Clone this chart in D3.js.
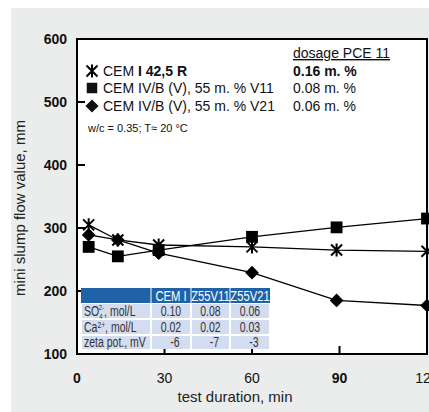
<!DOCTYPE html>
<html>
<head>
<meta charset="utf-8">
<script src="https://cdn.jsdelivr.net/npm/d3@7"></script>
<style>
  body { margin: 0; background: #fff; }
  svg { display: block; font-family: "Liberation Sans", Arial, sans-serif; }
</style>
</head>
<body>
<svg id="chart" width="429" height="412"></svg>
<script>
var times = [4, 14, 28, 60, 89, 120];
var cemI = [305, 281, 273, 270, 265, 263];
var v11 = [270, 255, 265, 286, 301, 315];
var v21 = [289, 281, 260, 229, 185, 177];
var xTicks = [0, 30, 60, 90, 120];
var yTicks = [100, 200, 300, 400, 500, 600];

var tableHead = ["", "CEM I", "Z55V11", "Z55V21"];
var rowLabels = ["SO4", "Ca", "zeta pot., mV"];
var cemIIons = ["0.10", "0.02", "-6"];
var v11Ions = ["0.08", "0.02", "-7"];
var v21Ions = ["0.06", "0.03", "-3"];

var svg = d3.select("#chart");
var pL = 77, pT = 39, pR = 427, pB = 354;

// grey backdrop
svg.append("rect").attr("x", 11).attr("y", 8).attr("width", 418).attr("height", 404).attr("fill", "#ebecec");

var x = d3.scaleLinear().domain([0, 120]).range([pL, pR]);
var y = d3.scaleLinear().domain([100, 600]).range([pB, pT]);

svg.append("rect")
    .attr("x", pL).attr("y", pT)
    .attr("width", pR - pL).attr("height", pB - pT)
    .attr("fill", "white").attr("stroke", "black").attr("stroke-width", 2);

// inward ticks
svg.selectAll(".yt").data(yTicks.slice(1, -1)).enter().append("line")
    .attr("x1", pL).attr("x2", pL + 8)
    .attr("y1", d => y(d)).attr("y2", d => y(d))
    .attr("stroke", "black").attr("stroke-width", 2);
svg.selectAll(".xt").data(xTicks.slice(1, -1)).enter().append("line")
    .attr("x1", d => x(d)).attr("x2", d => x(d))
    .attr("y1", pB).attr("y2", pB - 8)
    .attr("stroke", "black").attr("stroke-width", 2);

svg.selectAll(".yl").data(yTicks).enter().append("text")
    .attr("x", 67).attr("y", d => y(d) + 5)
    .attr("text-anchor", "end").attr("font-size", 14).attr("font-weight", "bold")
    .attr("fill", "#111").text(d => d);
svg.selectAll(".xl").data(xTicks).enter().append("text")
    .attr("x", d => x(d)).attr("y", 383)
    .attr("text-anchor", "middle").attr("font-size", 14)
    .attr("font-weight", d => (d == 0 || d == 90) ? "bold" : "normal")
    .attr("fill", "#111").text(d => d);

svg.append("text").attr("x", 235).attr("y", 402).attr("text-anchor", "middle")
    .attr("font-size", 15).attr("fill", "#222").text("test duration, min");
svg.append("text").attr("transform", "translate(25,208) rotate(-90)").attr("text-anchor", "middle")
    .attr("font-size", 15).attr("fill", "#222").text("mini slump flow value, mm");

// table of pore solution values (condensed text via horizontal scale)
var tx = [81, 151, 191, 230, 270];
var ty = [288, 303, 319, 335, 350];
var tbl = svg.append("g");
function ntext(g, px, py, anchor) {
  return g.append("text").attr("transform", "translate(" + px + "," + py + ") scale(0.75,1)")
      .attr("text-anchor", anchor);
}
tbl.append("rect").attr("x", tx[0]).attr("y", ty[0]).attr("width", tx[4] - tx[0]).attr("height", ty[1] - ty[0])
    .attr("fill", "#1f62a8");
tableHead.forEach(function(h, i) {
  if (i > 0) {
    tbl.append("line").attr("x1", tx[i]).attr("x2", tx[i]).attr("y1", ty[0]).attr("y2", ty[1])
        .attr("stroke", "white").attr("stroke-width", 1);
    ntext(tbl, (tx[i] + tx[i + 1]) / 2, ty[1] - 2.5, "middle")
        .attr("font-size", 15).attr("fill", "white").text(h);
  }
});
var cols = [cemIIons, v11Ions, v21Ions];
rowLabels.forEach(function(lab, r) {
  for (var c = 0; c < 4; c++) {
    tbl.append("rect").attr("x", tx[c] + 1).attr("y", ty[r + 1] + 1)
        .attr("width", tx[c + 1] - tx[c] - 2).attr("height", ty[r + 2] - ty[r + 1] - 2)
        .attr("fill", "#d3ddef");
  }
  var t = ntext(tbl, tx[0] + 3, ty[r + 2] - 3, "start").attr("font-size", 14).attr("fill", "#333");
  if (r == 0) {
    t.append("tspan").text("SO");
    t.append("tspan").attr("font-size", 8).attr("dy", 3).text("4");
    t.append("tspan").attr("font-size", 8).attr("dy", -9).attr("dx", -5).text("2-");
    t.append("tspan").attr("dy", 6).text(", mol/L");
  } else if (r == 1) {
    t.append("tspan").text("Ca");
    t.append("tspan").attr("font-size", 9).attr("dy", -4).text("2+");
    t.append("tspan").attr("dy", 4).text(", mol/L");
  } else {
    t.text(lab);
  }
  cols.forEach(function(col, c) {
    var cx = (tx[c + 1] + tx[c + 2]) / 2 + (col[r].length < 3 ? 4 : 0);
    ntext(tbl, cx, ty[r + 2] - 3, "middle")
        .attr("font-size", 14).attr("fill", "#333").text(col[r]);
  });
});

// series
var line = d3.line().x((d, i) => x(times[i])).y(d => y(d));
[cemI, v11, v21].forEach(function(s) {
  svg.append("path").datum(s).attr("d", line).attr("fill", "none")
      .attr("stroke", "black").attr("stroke-width", 1.3);
});

function star(g, cx, cy) {
  var r = 5.5;
  g.append("path")
      .attr("d", "M" + (cx - r) + "," + (cy - r) + "L" + (cx + r) + "," + (cy + r) +
                 "M" + (cx - r) + "," + (cy + r) + "L" + (cx + r) + "," + (cy - r) +
                 "M" + cx + "," + (cy - r - 1) + "L" + cx + "," + (cy + r + 1))
      .attr("stroke", "black").attr("stroke-width", 2).attr("fill", "none");
}
var sq = d3.symbol().type(d3.symbolSquare).size(140);
var dia = d3.symbol().type(d3.symbolDiamond2).size(120);

cemI.forEach((d, i) => star(svg, x(times[i]), y(d)));
svg.selectAll(".sq").data(v11).enter().append("path").attr("d", sq)
    .attr("transform", (d, i) => "translate(" + x(times[i]) + "," + y(d) + ")").attr("fill", "black");
svg.selectAll(".di").data(v21).enter().append("path").attr("d", dia)
    .attr("transform", (d, i) => "translate(" + x(times[i]) + "," + y(d) + ")").attr("fill", "black");

// legend
var lg = svg.append("g").attr("font-size", 14).attr("fill", "#111");
star(lg, 92, 71);
lg.append("path").attr("d", d3.symbol().type(d3.symbolSquare).size(110)).attr("transform", "translate(92,88)");
lg.append("path").attr("d", d3.symbol().type(d3.symbolDiamond2).size(110)).attr("transform", "translate(92,106)");
var l1 = lg.append("text").attr("x", 103).attr("y", 76);
l1.append("tspan").text("CEM ");
l1.append("tspan").attr("font-weight", "bold").text("I 42,5 R");
lg.append("text").attr("x", 103).attr("y", 93).text("CEM IV/B (V), 55 m. % V11");
lg.append("text").attr("x", 103).attr("y", 111).text("CEM IV/B (V), 55 m. % V21");
lg.append("text").attr("x", 88).attr("y", 132).attr("font-size", 11).text("w/c = 0.35; T\u2248 20 \u00b0C");

lg.append("text").attr("x", 293).attr("y", 58).attr("text-decoration", "underline").text("dosage PCE 11");
lg.append("text").attr("x", 293).attr("y", 76).attr("font-weight", "bold").text("0.16 m. %");
lg.append("text").attr("x", 293).attr("y", 93).text("0.08 m. %");
lg.append("text").attr("x", 293).attr("y", 111).text("0.06 m. %");
</script>
</body>
</html>
